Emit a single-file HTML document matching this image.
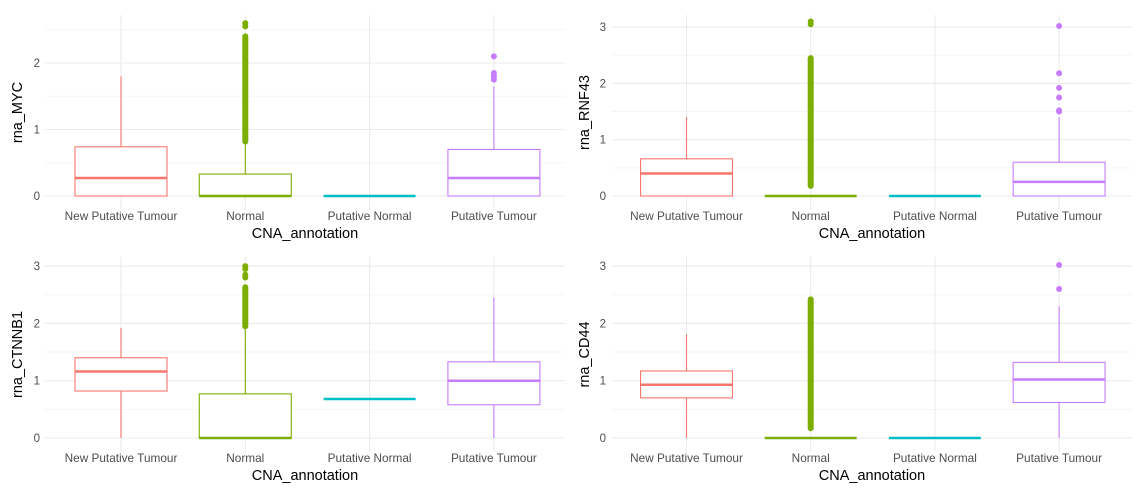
<!DOCTYPE html>
<html><head><meta charset="utf-8"><style>
body{margin:0;background:#fff;}
svg{display:block;font-family:"Liberation Sans",sans-serif;}
</style></head><body>
<svg id="c" width="1146" height="499"></svg>
<script>
const categories=["New Putative Tumour","Normal","Putative Normal","Putative Tumour"];
const colors=["#F8766D","#7CAE00","#00BFC4","#C77CFF"];
const genes=["rna_MYC","rna_RNF43","rna_CTNNB1","rna_CD44"];
// per gene: [lowerWhisker, q1, median, q3, upperWhisker] for each category
const statsMYC=[[0,0,0.27,0.74,1.8],[0,0,0,0.33,0.8],[0,0,0,0,0],[0,0,0.27,0.7,1.65]];
const statsRNF43=[[0,0,0.4,0.66,1.4],[0,0,0,0,0],[0,0,0,0,0],[0,0,0.25,0.6,1.4]];
const statsCTNNB1=[[0,0.82,1.16,1.4,1.92],[0,0,0,0.77,1.93],[0.68,0.68,0.68,0.68,0.68],[0,0.58,1.0,1.33,2.45]];
const statsCD44=[[0,0.7,0.93,1.17,1.81],[0,0,0,0,0],[0,0,0,0,0],[0,0.62,1.02,1.32,2.3]];
// dense outlier ranges [lo,hi] per category (null = none)
const denseMYC=[null,[0.82,2.4],null,null];
const denseRNF43=[null,[0.18,2.45],null,null];
const denseCTNNB1=[null,[1.95,2.63],null,null];
const denseCD44=[null,[0.17,2.42],null,null];
// discrete outliers per category
const outMYC=[[],[2.55,2.6],[],[1.75,1.8,1.85,2.1]];
const outRNF43=[[],[3.05,3.1],[],[1.5,1.52,1.75,1.92,2.18,3.02]];
const outCTNNB1=[[],[2.8,2.85,2.95,3.0],[],[]];
const outCD44=[[],[],[],[2.6,3.02]];
const yTicksMYC=[0,1,2], yTicks3=[0,1,2,3];

const svg=document.getElementById('c');const NS="http://www.w3.org/2000/svg";
function mk(t,a,p){const e=document.createElementNS(NS,t);for(const k in a)e.setAttribute(k,a[k]);(p||svg).appendChild(e);return e;}
const panels=[
 {g:0,stats:statsMYC,dense:denseMYC,out:outMYC,ticks:yTicksMYC,left:45,right:565,top:15,bot:210,y0:196,ppu:66.5,cx0:121,step:124.3,tickX:40,titleX:22},
 {g:1,stats:statsRNF43,dense:denseRNF43,out:outRNF43,ticks:yTicks3,left:612,right:1132,top:15,bot:210,y0:196,ppu:56.3,cx0:686.5,step:124.2,tickX:606,titleX:589},
 {g:2,stats:statsCTNNB1,dense:denseCTNNB1,out:outCTNNB1,ticks:yTicks3,left:45,right:565,top:257,bot:452,y0:438,ppu:57.3,cx0:121,step:124.3,tickX:40,titleX:22},
 {g:3,stats:statsCD44,dense:denseCD44,out:outCD44,ticks:yTicks3,left:612,right:1132,top:257,bot:452,y0:438,ppu:57.3,cx0:686.5,step:124.2,tickX:606,titleX:589}];
panels.forEach(P=>{
 const g=mk('g',{});
 const Y=v=>P.y0-v*P.ppu, X=i=>P.cx0+i*P.step;
 const maxV=(P.top-P.y0)/-P.ppu;
 for(let v=0.5;v<maxV;v+=1){if(Y(v)>P.top)mk('line',{x1:P.left,x2:P.right,y1:Y(v),y2:Y(v),stroke:'#f5f5f5','stroke-width':1},g);}
 P.ticks.forEach(t=>{mk('line',{x1:P.left,x2:P.right,y1:Y(t),y2:Y(t),stroke:'#ebebeb','stroke-width':1.1},g);
  const tx=mk('text',{x:P.tickX,y:Y(t)+4,'text-anchor':'end','font-size':11.5,fill:'#4d4d4d'},g);tx.textContent=t;});
 categories.forEach((c,i)=>{mk('line',{x1:X(i),x2:X(i),y1:P.top,y2:P.bot,stroke:'#ebebeb','stroke-width':1.1},g);
  const tx=mk('text',{x:X(i),y:P.bot+10,'text-anchor':'middle','font-size':11.8,fill:'#4d4d4d'},g);tx.textContent=c;});
 const xt=mk('text',{x:(P.left+P.right)/2,y:P.bot+28,'text-anchor':'middle','font-size':14.5,fill:'#000'},g);xt.textContent='CNA_annotation';
 const cy=(P.top+P.bot)/2;const yt=mk('text',{x:P.titleX,y:cy,'text-anchor':'middle','font-size':14.5,transform:`rotate(-90 ${P.titleX} ${cy})`},g);yt.textContent=genes[P.g];
 const hw=P.step*0.37;
 P.stats.forEach((s,i)=>{const col=colors[i],x=X(i);
  const b=mk('g',{},g);
  mk('line',{x1:x,x2:x,y1:Y(s[0]),y2:Y(s[1]),stroke:col,'stroke-width':1.1},b);
  mk('line',{x1:x,x2:x,y1:Y(s[3]),y2:Y(s[4]),stroke:col,'stroke-width':1.1},b);
  mk('rect',{x:x-hw,y:Y(s[3]),width:2*hw,height:Math.max(0,Y(s[1])-Y(s[3])),fill:'#fff',stroke:col,'stroke-width':1.1},b);
  mk('line',{x1:x-hw,x2:x+hw,y1:Y(s[2]),y2:Y(s[2]),stroke:col,'stroke-width':2.5},b);
  const d=P.dense[i];if(d)mk('line',{x1:x,x2:x,y1:Y(d[0]),y2:Y(d[1]),stroke:col,'stroke-width':6,'stroke-linecap':'round'},b);
  P.out[i].forEach(v=>mk('circle',{cx:x,cy:Y(v),r:3,fill:col},b));
 });
});
</script>
</body></html>
